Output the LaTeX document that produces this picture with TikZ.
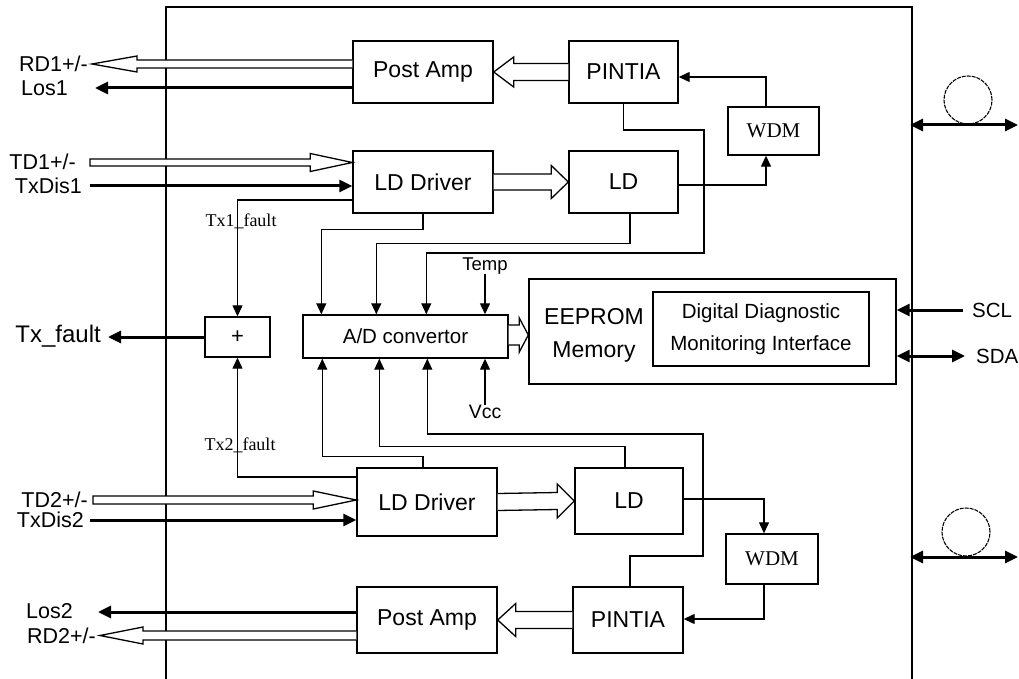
\documentclass[tikz,border=0pt]{standalone}
\usepackage{fontspec}
\setmainfont{Liberation Sans}
\newfontfamily\tmsfont{Liberation Serif}
\usetikzlibrary{arrows.meta,calc}
\newcommand\fs[1]{\fontsize{#1}{#1}\selectfont}
% #1 tail, #2 tip, #3 half shaft, #4 half head, #5 x offset tip->head base, #6 closing
\newcommand\hollowarr[6]{\draw[hol] ($(#1)+(0,-#3)$) -- ($(#2)+(#5,-#3)$) -- ($(#2)+(#5,-#4)$) -- (#2) -- ($(#2)+(#5,#4)$) -- ($(#2)+(#5,#3)$) -- ($(#1)+(0,#3)$) #6;}
\begin{document}
\begin{tikzpicture}[x=1pt,y=-1pt,
 blk/.style={draw,line width=1.4pt,inner sep=0pt,font=\fs{23}},
 lbl/.style={inner sep=0pt,font=\fs{21.5}},
 con/.style={line width=1.3pt,-{Triangle[length=11pt,width=10pt]}},
 thk/.style={line width=3pt,-{Triangle[length=13pt,width=12pt]}},
 thkk/.style={line width=3pt,{Triangle[length=13pt,width=12pt]}-{Triangle[length=13pt,width=12pt]}},
 hol/.style={line width=1.3pt,fill=white,line join=miter}]
\useasboundingbox (0,0) rectangle (1019,679);
% frame
\draw[line width=1.4pt] (166,679) -- (166,7) -- (912,7) -- (912,679);

% blocks
\node[blk,minimum width=140pt,minimum height=62pt] (pa1) at (423,72) {Post Amp};
\node[blk,minimum width=109pt,minimum height=62pt] (pin1) at (623.5,72) {PINTIA};
\node[blk,minimum width=140pt,minimum height=62pt] (ldd1) at (423,182) {LD Driver};
\node[blk,minimum width=109pt,minimum height=62pt] (ld1) at (623.5,182) {LD};
\node[blk,minimum width=91pt,minimum height=48pt,font=\tmsfont\fs{21}] (wdm1) at (773.5,131) {WDM};
\node[blk,minimum width=65pt,minimum height=40pt,font=\fs{22}] (plus) at (237.5,337) {+};
\node[blk,minimum width=205pt,minimum height=43pt,font=\fs{20.5}] (ad) at (405.5,336.5) {A/D convertor};
\node[blk,minimum width=367pt,minimum height=105pt] (ee) at (712.5,331.5) {};
\node[blk,minimum width=216pt,minimum height=74pt,font=\fs{20.5},align=center] (ddm) at (761,329) {Digital Diagnostic\\[12pt]Monitoring Interface};
\node[inner sep=0pt,font=\fs{23},align=center] (eetxt) at (594,335) {EEPROM\\[10pt]Memory};
\node[blk,minimum width=140pt,minimum height=68pt] (ldd2) at (427,502) {LD Driver};
\node[blk,minimum width=108pt,minimum height=66pt] (ld2) at (629,501) {LD};
\node[blk,minimum width=92pt,minimum height=50pt,font=\tmsfont\fs{21}] (wdm2) at (772,559) {WDM};
\node[blk,minimum width=110pt,minimum height=66pt] (pin2) at (628,620) {PINTIA};
\node[blk,minimum width=140pt,minimum height=66pt] (pa2) at (427,620) {Post Amp};

% left labels
\node[lbl,anchor=east] (l_rd1) at (88,64) {RD1+/-};
\node[lbl,anchor=east] (l_los1) at (68,88) {Los1};
\node[lbl,anchor=east] (l_td1) at (76,162) {TD1+/-};
\node[lbl,anchor=east] (l_txd1) at (82,186) {TxDis1};
\node[lbl,anchor=east,font=\fs{24}] (l_txf) at (101,336) {Tx\_fault};
\node[lbl,anchor=east] (l_td2) at (88,500) {TD2+/-};
\node[lbl,anchor=east] (l_txd2) at (84,520) {TxDis2};
\node[lbl,anchor=east] (l_los2) at (73,611) {Los2};
\node[lbl,anchor=east] (l_rd2) at (96,636) {RD2+/-};
\node[lbl,anchor=west,font=\fs{20.5}] (l_scl) at (972,310) {SCL};
\node[lbl,anchor=west,font=\fs{20.5}] (l_sda) at (976,356) {SDA};
\node[lbl,font=\fs{18.5}] (temp) at (485,266) {Temp};
\node[lbl,font=\fs{19.5}] (vcc) at (485,412) {Vcc};

% coordinates
\coordinate (rd1tip) at (92,64);
\coordinate (td1tail) at (90,162.5);
\coordinate (td2tail) at (93,500);
\coordinate (rd2tip) at (100,635.5);
\coordinate (los1end) at (95,88);
\coordinate (txd1start) at (90,186);
\coordinate (txfend) at (108,337);
\coordinate (txd2start) at (90,520);
\coordinate (los2end) at (98,612);
\coordinate (sclstart) at (963,310);
\coordinate (sdaend) at (965,356);
\coordinate (f1a) at (910,125);
\coordinate (f1b) at (1018,125);
\coordinate (f2a) at (910,557);
\coordinate (f2b) at (1018,557);
\coordinate (b1) at (704,130);
\coordinate (b2) at (704,253);
\coordinate (c1) at (703,556);
\coordinate (c2) at (703,434);

% hollow (bus) arrows
\hollowarr{pa1.west |- rd1tip}{rd1tip}{4}{8}{45}{}
\hollowarr{pin1.west}{pa1.east}{8.5}{15}{20}{}
\hollowarr{td1tail}{ldd1.west |- td1tail}{3.5}{9}{-42}{-- cycle}
\hollowarr{ldd1.east}{ld1.west}{8}{16.5}{-17}{}
\hollowarr{ad.east |- 0,335}{ee.west |- 0,335}{10}{17}{-9}{}
\hollowarr{td2tail}{ldd2.west |- td2tail}{4}{9}{-43}{-- cycle}
\hollowarr{ldd2.east}{ld2.west}{8.5}{17}{-17}{}
\hollowarr{pin2.west}{pa2.east}{8.5}{16.5}{18}{}
\hollowarr{pa2.west |- rd2tip}{rd2tip}{4.5}{8.5}{43}{}

% thick signal lines
\draw[thk] (pa1.west |- los1end) -- (los1end);
\draw[thk] (txd1start) -- (ldd1.west |- txd1start);
\draw[thk] (plus.west) -- (txfend);
\draw[thk] (txd2start) -- (ldd2.west |- txd2start);
\draw[thk] (pa2.west |- los2end) -- (los2end);
\draw[thk] (sclstart) -- (ee.east |- sclstart);
\draw[thkk] (ee.east |- sdaend) -- (sdaend);
\draw[thkk] (f1a) -- (f1b);
\draw[thkk] (f2a) -- (f2b);
\draw[line width=1.1pt,dash pattern=on 4pt off 1pt] (968,100) circle[radius=24pt];
\draw[line width=1.1pt,dash pattern=on 4pt off 1pt] (966,532) circle[radius=24pt];

% thin connectors, upper half
\draw[con] ([xshift=-7.5pt]wdm1.north) |- ([yshift=-5pt]pin1.east);
\draw[con] ([yshift=-3pt]ld1.east) -| ([xshift=-7.5pt]wdm1.south);
\draw[con] ([yshift=-18pt]ldd1.west) -| (plus.north);
\draw[con] (ldd1.south) -- ++(0,16) -| ($(ad.north west)+(19,0)$);
\draw[con] ([xshift=6.5pt]ld1.south) -- ++(0,30) -| ($(ad.north west)+(74,0)$);
\draw[con] (pin1.south) |- (b1) -- (b2) -| ($(ad.north west)+(124,0)$);
\draw[con] (temp.south) -- (temp.south |- ad.north);
\draw[con] (vcc.north) -- (vcc.north |- ad.south);

% thin connectors, lower half
\draw[con] ([yshift=25pt]ldd2.west) -| (plus.south);
\draw[con] ([xshift=-4pt]ldd2.north) -- ++(0,-11) -| ($(ad.south west)+(20,0)$);
\draw[con] ([xshift=-4pt]ld2.north) -- ++(0,-21) -| ($(ad.south west)+(77,0)$);
\draw[con] ([xshift=2pt]pin2.north) |- (c1) -- (c2) -| ($(ad.south west)+(125,0)$);
\draw[con] ([yshift=2pt]ld2.east) -| ([xshift=-8pt]wdm2.north);
\draw[con] ([xshift=-8pt]wdm2.south) |- ([yshift=1pt]pin2.east);

% fault labels
\node[inner sep=0pt,font=\tmsfont\fs{18}] (tx1f) at (241,221) {Tx1\_fault};
\node[inner sep=0pt,font=\tmsfont\fs{18}] (tx2f) at (240,445) {Tx2\_fault};
\end{tikzpicture}
\end{document}
